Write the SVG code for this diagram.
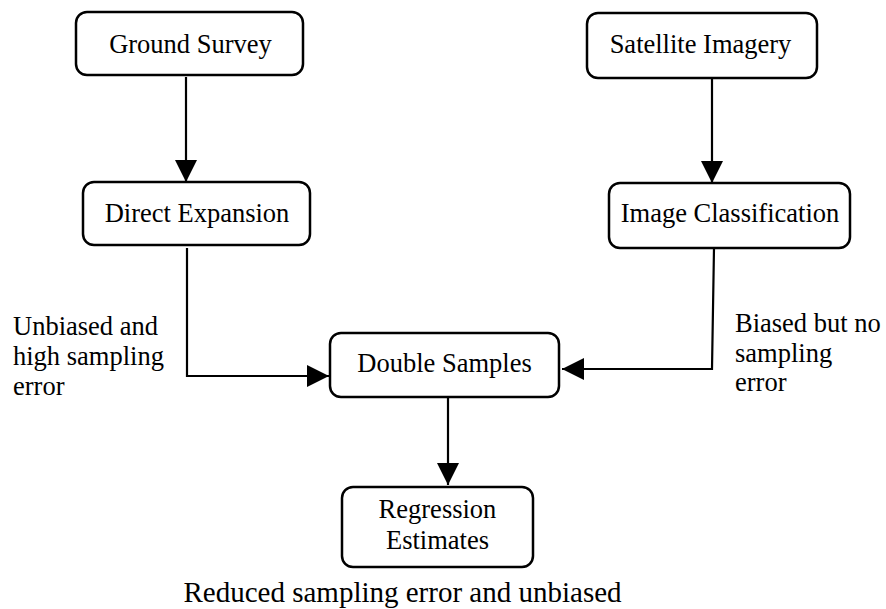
<svg xmlns="http://www.w3.org/2000/svg" width="886" height="609" viewBox="0 0 886 609">
<defs>
<style>
.box{fill:#fff;stroke:#000;stroke-width:2.5}
text{font-family:'Liberation Serif','DejaVu Serif',serif;fill:#000}
.t{font-size:26.5px;text-anchor:middle}
.l{font-size:26.5px}
.c{font-size:29px;text-anchor:middle}
.ln{fill:none;stroke:#000;stroke-width:2.2}
</style>
<marker id="ah" markerWidth="22" markerHeight="22" viewBox="0 0 22 22" refX="22" refY="11" orient="auto" markerUnits="userSpaceOnUse">
<path d="M0,0 L22,11 L0,22 Z" fill="#000"/>
</marker>
</defs>
<rect width="886" height="609" fill="#fff"/>
<g id="connectors">
<path class="ln" d="M186,77 V182" marker-end="url(#ah)"/>
<path class="ln" d="M712,78 V183" marker-end="url(#ah)"/>
<path class="ln" d="M187,248 V376 H329" marker-end="url(#ah)"/>
<path class="ln" d="M714,248 L712,369 H562" marker-end="url(#ah)"/>
<path class="ln" d="M448,398 V485" marker-end="url(#ah)"/>
</g>
<g id="ground-survey">
<rect class="box" x="76" y="12" width="227" height="63" rx="11"/>
<text class="t" x="190.5" y="53" font-family="Liberation Serif">Ground Survey</text>
</g>
<g id="satellite-imagery">
<rect class="box" x="587" y="13" width="230" height="65" rx="11"/>
<text class="t" x="700.5" y="53">Satellite Imagery</text>
</g>
<g id="direct-expansion">
<rect class="box" x="83" y="182" width="227" height="63" rx="11"/>
<text class="t" x="197" y="222">Direct Expansion</text>
</g>
<g id="image-classification">
<rect class="box" x="609" y="183" width="241" height="65" rx="11"/>
<text class="t" x="730" y="222">Image Classification</text>
</g>
<g id="double-samples">
<rect class="box" x="330" y="333" width="229" height="64" rx="11"/>
<text class="t" x="444.5" y="372">Double Samples</text>
</g>
<g id="regression-estimates">
<rect class="box" x="342" y="487" width="191" height="80" rx="11"/>
<text class="t" x="437.5" y="518">Regression</text>
<text class="t" x="437.5" y="549">Estimates</text>
</g>
<g id="labels">
<text class="l" x="13" y="335">Unbiased and</text>
<text class="l" x="13" y="365">high sampling</text>
<text class="l" x="13" y="395">error</text>
<text class="l" x="735" y="332">Biased but no</text>
<text class="l" x="735" y="362">sampling</text>
<text class="l" x="735" y="391">error</text>
<text class="c" x="402.5" y="602">Reduced sampling error and unbiased</text>
</g>
</svg>
